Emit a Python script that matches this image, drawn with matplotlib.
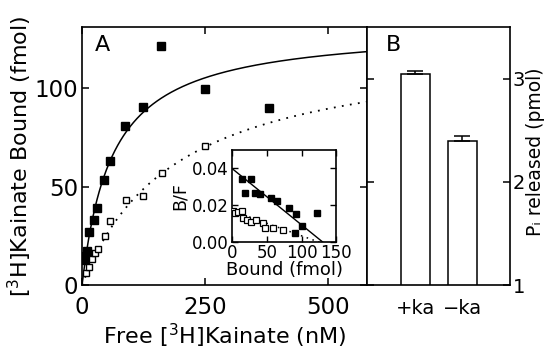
import numpy as np
import matplotlib
matplotlib.use("Agg")
import matplotlib.pyplot as plt

# Panel A: saturation binding (free nM, bound fmol)
free_ka = [5, 8, 11, 12, 15, 25, 30, 45, 57, 88, 125, 160, 250, 381]
bound_ka = [13, 15, 17.4, 16, 26.7, 33, 39, 53.3, 63, 80.7, 90.5, 121.5, 99.5, 89.7]
free_open = [9, 14, 20, 27, 32, 47, 57, 89, 125, 162, 250]
bound_open = [6.3, 9.3, 13.5, 16.1, 18.1, 24.9, 32.6, 43.1, 45.2, 56.7, 70.7]

# hyperbolic fits (Bmax, Kd)
fit_solid = (131.0, 61.5)
fit_dotted = (123.8, 192.0)

# Inset: Scatchard (bound fmol, B/F)
sc_bound_filled = [15, 27, 19, 33, 40, 56, 64, 82, 92, 122, 101, 90]
sc_bf_filled = [0.034, 0.0343, 0.0267, 0.0267, 0.026, 0.024, 0.0223, 0.0185, 0.015, 0.0155, 0.0086, 0.005]
sc_bound_open = [1, 5, 8, 14, 16, 21, 27, 35, 45, 48, 59, 73]
sc_bf_open = [0.0167, 0.0155, 0.016, 0.0169, 0.0128, 0.0118, 0.0109, 0.0118, 0.0104, 0.0073, 0.0073, 0.0064]
sc_solid = (0.04, 130.0)   # y-intercept, x-intercept
sc_dotted = (0.017, 124.0)

# Panel B: Pi released
bar_labels = ["+ka", "\u2212ka"]
bar_values = [3.04, 2.40]
bar_errors = [0.03, 0.04]

plt.rcParams["font.family"] = "DejaVu Sans"
plt.rcParams["axes.linewidth"] = 1.2

fig = plt.figure(figsize=(5.47, 3.49), dpi=100)
axA = fig.add_axes([0.150, 0.183, 0.521, 0.740])
axB = fig.add_axes([0.671, 0.183, 0.261, 0.740])

# --- panel A ---
x = np.linspace(0, 580, 400)
axA.plot(x, fit_solid[0] * x / (fit_solid[1] + x), color="black", lw=1.1)
axA.plot(x, fit_dotted[0] * x / (fit_dotted[1] + x), color="black", lw=1.3,
         linestyle=(0, (1, 3.5)))
axA.plot(free_ka, bound_ka, "s", color="black", ms=6, zorder=3)
axA.plot(free_open, bound_open, "s", mfc="white", mec="black", mew=1.0, ms=5, zorder=3)
axA.set_xlim(0, 580)
axA.set_ylim(0, 131)
axA.set_xticks([0, 250, 500])
axA.set_yticks([0, 50, 100])
axA.tick_params(direction="in", top=True, right=True, length=5, width=1.1,
                labelsize=16.5)
axA.tick_params(axis="x", pad=8)
axA.tick_params(axis="y", pad=3)
axA.set_xlabel("Free [$^{3}$H]Kainate (nM)", fontsize=16, labelpad=2)
axA.set_ylabel("[$^{3}$H]Kainate Bound (fmol)", fontsize=16, labelpad=0)
axA.text(0.045, 0.93, "A", transform=axA.transAxes, fontsize=16, va="center")

# --- inset ---
axI = fig.add_axes([0.424, 0.307, 0.191, 0.263])
xs = np.linspace(0, 150, 100)
axI.plot(xs, sc_solid[0] * (1 - xs / sc_solid[1]), color="black", lw=1.0)
axI.plot(xs, sc_dotted[0] * (1 - xs / sc_dotted[1]), color="black", lw=1.1,
         linestyle=(0, (1, 3)))
axI.plot(sc_bound_filled, sc_bf_filled, "s", color="black", ms=4.5, zorder=3)
axI.plot(sc_bound_open, sc_bf_open, "s", mfc="white", mec="black", mew=0.9, ms=4, zorder=3)
axI.set_xlim(0, 150)
axI.set_ylim(0, 0.05)
axI.set_xticks([0, 50, 100, 150])
axI.set_yticks([0.0, 0.02, 0.04])
axI.set_yticklabels(["0.00", "0.02", "0.04"])
axI.tick_params(direction="in", top=True, right=True, length=4, width=1.0,
                labelsize=12)
axI.tick_params(axis="x", pad=1.5)
axI.tick_params(axis="y", pad=2.5)
axI.set_xlabel("Bound (fmol)", fontsize=13, labelpad=-1)
axI.set_ylabel("B/F", fontsize=12.5, labelpad=2)

# --- panel B ---
centers = [0.339, 0.668]
axB.bar(centers, bar_values, width=0.203, bottom=0, color="white",
        edgecolor="black", linewidth=1.1, zorder=2)
axB.errorbar(centers, bar_values, yerr=[[0, 0], bar_errors], fmt="none",
             ecolor="black", elinewidth=1.1, capsize=5.5, capthick=1.1, zorder=3)
axB.set_xlim(0, 1)
axB.set_ylim(1, 3.5)
axB.set_xticks(centers)
axB.set_xticklabels(bar_labels)
axB.set_yticks([1, 2, 3])
axB.tick_params(axis="x", length=0, labelsize=14, pad=10)
axB.tick_params(axis="y", direction="in", left=True, right=True, labelleft=False,
                labelright=True, length=5, width=1.1, labelsize=14, pad=2)
axB.text(0.13, 0.93, "B", transform=axB.transAxes, fontsize=16, va="center")
fig.text(0.997, 0.566, "P\u1d62 released (pmol)", rotation=90,
         fontsize=13.5, ha="right", va="center")

fig.savefig("out.png", dpi=100)
